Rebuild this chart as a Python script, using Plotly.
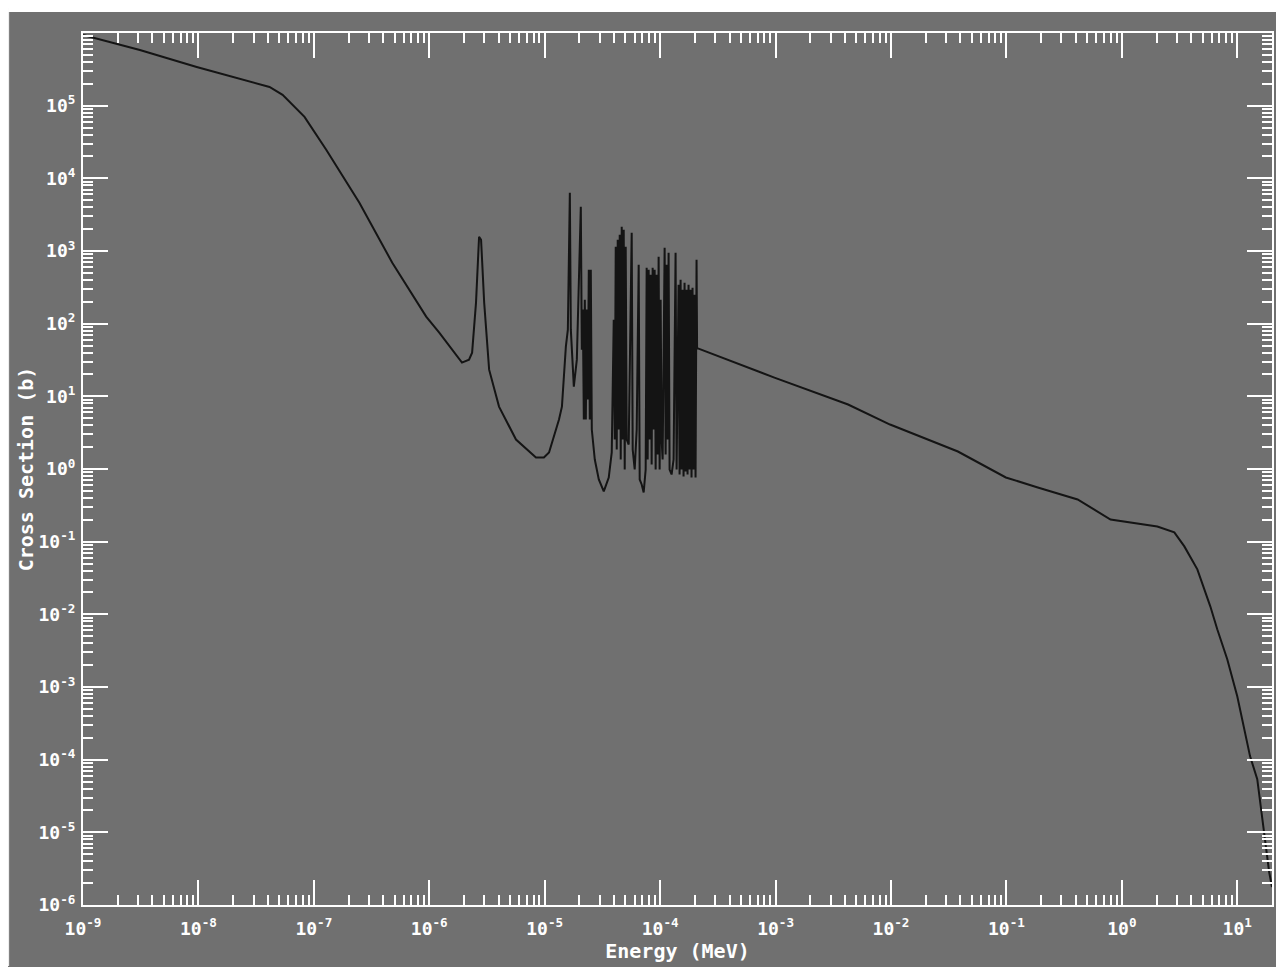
import plotly.graph_objects as go

# ---- data (energy in MeV, cross section in barns) ----
thermal_energy = [1.0e-9, 3.11e-9, 9.66e-9, 2.94e-8, 4.13e-8, 5.36e-8, 8.30e-8, 1.28e-7,
                  2.48e-7, 4.78e-7, 9.40e-7, 1.22e-6, 1.81e-6, 1.92e-6, 2.21e-6, 2.35e-6,
                  2.54e-6, 2.70e-6, 2.81e-6, 2.99e-6, 3.30e-6, 4.02e-6, 5.64e-6, 8.40e-6,
                  9.84e-6, 1.09e-5, 1.33e-5, 1.41e-5, 1.525e-5, 1.587e-5]
thermal_xs = [9.4e5, 5.83e5, 3.41e5, 2.12e5, 1.81e5, 1.41e5, 7.0e4, 2.47e4,
              4610, 689, 125, 75.2, 32.0, 29.1, 32.0, 39.9,
              195, 1570, 1430, 195, 23.3, 7.22, 2.54, 1.44,
              1.44, 1.69, 4.79, 7.22, 48.3, 82.7]

res_energy = [1.651e-5, 1.684e-5, 1.788e-5, 1.898e-5, 2.055e-5, 2.097e-5,
              2.139e-5, 2.182e-5, 2.226e-5, 2.271e-5, 2.316e-5, 2.363e-5, 2.410e-5, 2.459e-5,
              2.508e-5, 2.559e-5, 2.716e-5, 2.942e-5, 3.249e-5, 3.588e-5, 3.809e-5,
              3.964e-5, 4.044e-5, 4.125e-5, 4.207e-5, 4.292e-5, 4.378e-5, 4.467e-5, 4.556e-5,
              4.648e-5, 4.742e-5, 4.837e-5, 4.934e-5, 5.033e-5, 5.134e-5, 5.342e-5,
              5.672e-5, 5.786e-5, 6.021e-5, 6.265e-5, 6.520e-5, 6.651e-5, 6.920e-5, 7.201e-5,
              7.494e-5, 7.644e-5, 7.798e-5, 7.955e-5, 8.115e-5, 8.278e-5, 8.444e-5, 8.614e-5,
              8.787e-5, 8.964e-5, 9.144e-5, 9.327e-5, 9.515e-5, 9.706e-5, 9.901e-5, 1.010e-4,
              1.030e-4, 1.051e-4, 1.094e-4, 1.116e-4, 1.138e-4, 1.161e-4, 1.184e-4, 1.208e-4,
              1.257e-4, 1.308e-4, 1.361e-4, 1.389e-4, 1.445e-4, 1.474e-4, 1.504e-4, 1.534e-4,
              1.565e-4, 1.596e-4, 1.628e-4, 1.661e-4, 1.694e-4, 1.728e-4, 1.763e-4, 1.798e-4,
              1.834e-4, 1.871e-4, 1.909e-4, 1.948e-4, 1.987e-4, 2.027e-4, 2.068e-4, 2.09e-4]
res_xs = [6320, 82.7, 13.6, 32.0, 4060, 43.9,
          156, 4.79, 214, 4.79, 156, 9.02, 553, 4.79,
          553, 3.49, 1.35, 0.718, 0.491, 0.764, 1.69,
          113, 2.54, 1140, 1.85, 1430, 3.49, 1670, 1.35,
          2150, 2.54, 1960, 0.984, 1140, 2.54, 2.17,
          1780, 1.85, 0.984, 3.49, 648, 0.718, 0.612, 0.476,
          0.984, 589, 1.35, 553, 2.54, 472, 1.15, 589,
          3.49, 553, 0.984, 472, 1.58, 834, 0.984, 214,
          2.54, 1.35, 1110, 1.58, 648, 2.54, 946, 0.984,
          0.840, 1.35, 946, 0.984, 344, 0.840, 403, 0.984,
          293, 0.789, 366, 0.924, 293, 0.840, 344, 0.984,
          293, 0.764, 313, 0.984, 250, 0.764, 758, 46.0]

fast_energy = [2.15e-4, 9.77e-4, 4.25e-3, 9.82e-3, 3.80e-2, 9.89e-2, 0.187, 0.414,
               0.798, 1.57, 2.03, 2.85, 3.48, 4.51, 5.84, 6.71, 8.19, 10.0,
               12.9, 14.9, 17.1, 18.9, 20.0]
fast_xs = [45.3, 18.1, 7.71, 4.09, 1.74, 0.764, 0.557, 0.381,
           0.202, 0.173, 0.162, 0.134, 0.0861, 0.0416, 0.0129, 6.22e-3, 2.41e-3, 7.46e-4,
           1.12e-4, 5.39e-5, 1.01e-5, 2.84e-6, 1.77e-6]

x_tick_vals = [1e-9, 1e-8, 1e-7, 1e-6, 1e-5, 1e-4, 1e-3, 1e-2, 1e-1, 1e0, 1e1]
x_tick_text = ["10<sup>-9</sup>", "10<sup>-8</sup>", "10<sup>-7</sup>", "10<sup>-6</sup>",
               "10<sup>-5</sup>", "10<sup>-4</sup>", "10<sup>-3</sup>", "10<sup>-2</sup>",
               "10<sup>-1</sup>", "10<sup>0</sup>", "10<sup>1</sup>"]
y_tick_vals = [1e-6, 1e-5, 1e-4, 1e-3, 1e-2, 1e-1, 1e0, 1e1, 1e2, 1e3, 1e4, 1e5]
y_tick_text = ["10<sup>-6</sup>", "10<sup>-5</sup>", "10<sup>-4</sup>", "10<sup>-3</sup>",
               "10<sup>-2</sup>", "10<sup>-1</sup>", "10<sup>0</sup>", "10<sup>1</sup>",
               "10<sup>2</sup>", "10<sup>3</sup>", "10<sup>4</sup>", "10<sup>5</sup>"]

energy = thermal_energy + res_energy + fast_energy
xs = thermal_xs + res_xs + fast_xs

BG = "#707070"
TICK_FONT = dict(family="DejaVu Sans Mono", size=18, color="white", weight="bold")
TITLE_FONT = dict(family="DejaVu Sans Mono", size=20, color="white", weight="bold")

fig = go.Figure()
fig.add_trace(go.Scatter(x=energy, y=xs, mode="lines",
                         line=dict(color="#141414", width=2), showlegend=False))

axis_common = dict(
    type="log", showgrid=False, zeroline=False,
    showline=True, linecolor="white", linewidth=2, mirror="allticks",
    ticks="inside", ticklen=25, tickwidth=2, tickcolor="white",
    tickmode="array", tickfont=TICK_FONT,
    minor=dict(ticks="inside", ticklen=10, tickwidth=2, tickcolor="white",
               dtick="D1", showgrid=False),
)

fig.update_xaxes(**axis_common, range=[-9, 1.301], tickvals=x_tick_vals,
                 ticktext=x_tick_text, ticklabelstandoff=6,
                 title=dict(text="Energy (MeV)", font=TITLE_FONT, standoff=4))
fig.update_yaxes(**axis_common, range=[-6, 6], tickvals=y_tick_vals,
                 ticktext=y_tick_text, ticklabelstandoff=2,
                 title=dict(text="Cross Section (b)", font=TITLE_FONT, standoff=0))

fig.update_layout(
    width=1276, height=959,
    margin=dict(l=75, r=10, t=25, b=61),
    paper_bgcolor=BG, plot_bgcolor=BG,
    shapes=[
        dict(type="rect", xref="paper", yref="paper",
             x0=-75 / 1191, x1=1 + 10 / 1191, y0=1 + 21 / 873, y1=1 + 25 / 873,
             fillcolor="white", line=dict(width=0), layer="below"),
        dict(type="rect", xref="paper", yref="paper",
             x0=-75 / 1191, x1=-74 / 1191, y0=-61 / 873, y1=1 + 25 / 873,
             fillcolor="white", line=dict(width=0), layer="below"),
    ],
)

fig.write_html("out.html")
